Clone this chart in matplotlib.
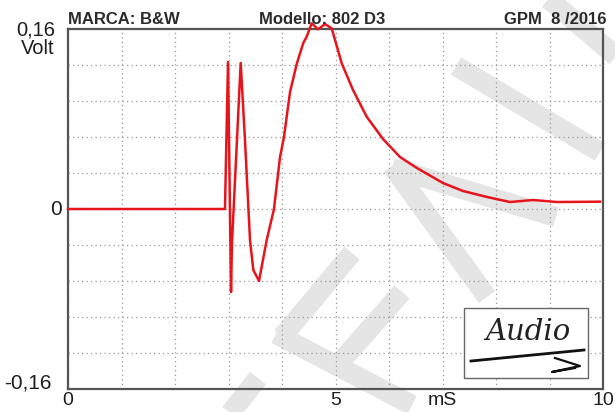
import numpy as np
import matplotlib
matplotlib.use('Agg')
import matplotlib.pyplot as plt
from matplotlib.patches import Rectangle

plt.rcParams['font.family'] = ['Liberation Sans', 'DejaVu Sans']

# impulse response, time in ms / amplitude in volt
tempo = [0.0, 2.934, 2.991, 3.047, 3.065, 3.228, 3.308, 3.402, 3.464, 3.570,
         3.714, 3.850, 3.963, 4.037, 4.150, 4.275, 4.398, 4.461, 4.555, 4.673,
         4.804, 4.929, 5.116, 5.327, 5.583, 5.888, 6.206, 6.523, 7.009, 7.383,
         7.832, 8.262, 8.692, 9.140, 9.944]
volt = [0.0, 0.0, 0.1307, -0.0738, -0.0302, 0.1298, 0.0613, -0.0276, -0.0542, -0.0640,
        -0.0276, 0.0, 0.0462, 0.0640, 0.1040, 0.1289, 0.1476, 0.1532, 0.1651, 0.1597,
        0.1644, 0.1606, 0.1295, 0.1058, 0.0820, 0.0622, 0.0462, 0.0364, 0.0231, 0.0160,
        0.0107, 0.0062, 0.0080, 0.0062, 0.0065]

marca = 'MARCA: B&W'
modello = 'Modello: 802 D3'
data_prova = 'GPM  8 /2016'
xlabels = {0: '0', 5: '5', 7: 'mS', 10: '10'}

W, H = 615, 412
fig = plt.figure(figsize=(W / 100, H / 100), dpi=100)

# background layer in pixel coordinates (watermark)
bg = fig.add_axes([0, 0, 1, 1], zorder=0)
bg.set_xlim(0, W)
bg.set_ylim(H, 0)
bg.axis('off')
bande = [((228, 416), (258, 378)),
         ((282, 337), (352, 253)),
         ((276, 334), (412, 405)),
         ((335, 368), (402, 292)),
         ((392, 166), (487, 297)),
         ((392, 168), (556, 217)),
         ((456, 66), (600, 152)),
         ((545, -4), (618, 58))]
for (x0, y0), (x1, y1) in bande:
    bg.plot([x0, x1], [y0, y1], color='#e5e5e5', lw=14.5, solid_capstyle='butt')

ax = fig.add_axes([68 / W, 1 - 389 / H, 535 / W, 360 / H], zorder=1)
ax.patch.set_alpha(0)
ax.set_xlim(0, 10)
ax.set_ylim(-0.16, 0.16)
ax.set_xticks(range(11))
ax.set_yticks(np.linspace(-0.16, 0.16, 11))
ax.set_xticklabels([xlabels.get(i, '') for i in range(11)], fontsize=14, color='#1e1e1e')
ax.set_yticklabels([])
ax.tick_params(length=0, pad=2)
ax.grid(True, color='#9a9a9a', lw=0.9, linestyle=(0, (1, 2.6)))
for s in ax.spines.values():
    s.set_color('#555555')
    s.set_linewidth(1.6)

ax.plot(tempo, volt, color='#e8141c', lw=1.8, clip_on=False, zorder=5)

# y labels
ax.text(-6 / 53.5, 0, '0', ha='right', va='center', fontsize=15, color='#1e1e1e')
ax.text(-16 / 53.5, -0.155, '-0,16', ha='right', va='center', fontsize=15, color='#1e1e1e')
fig.text(55 / W, 1 - 30 / H, '0,16', ha='right', va='center', fontsize=14.5, color='#1e1e1e')
fig.text(55 / W, 1 - 49 / H, 'Volt', ha='right', va='center', fontsize=14.5, color='#1e1e1e')

# header
fig.text(68 / W, 1 - 19 / H, marca, ha='left', va='center', fontsize=12, fontweight='bold', color='#2a2a2a')
fig.text(322 / W, 1 - 19 / H, modello, ha='center', va='center', fontsize=12, fontweight='bold', color='#2a2a2a')
fig.text(606 / W, 1 - 19 / H, data_prova, ha='right', va='center', fontsize=12, fontweight='bold', color='#2a2a2a')

# logo box
lg = fig.add_axes([0, 0, 1, 1], zorder=3)
lg.set_xlim(0, W)
lg.set_ylim(H, 0)
lg.axis('off')
lg.add_patch(Rectangle((464, 308), 124, 70, facecolor='white', edgecolor='#666666', lw=1))
lg.text(528, 332, 'Audio', ha='center', va='center', fontsize=21, fontstyle='italic',
        family='DejaVu Serif', color='#222222')
lg.plot([471, 584], [361, 350], color='#111111', lw=2)
lg.plot([555, 580, 552, 575], [358, 366, 372, 368], color='#111111', lw=1.6)

fig.savefig('out.png', dpi=100)
